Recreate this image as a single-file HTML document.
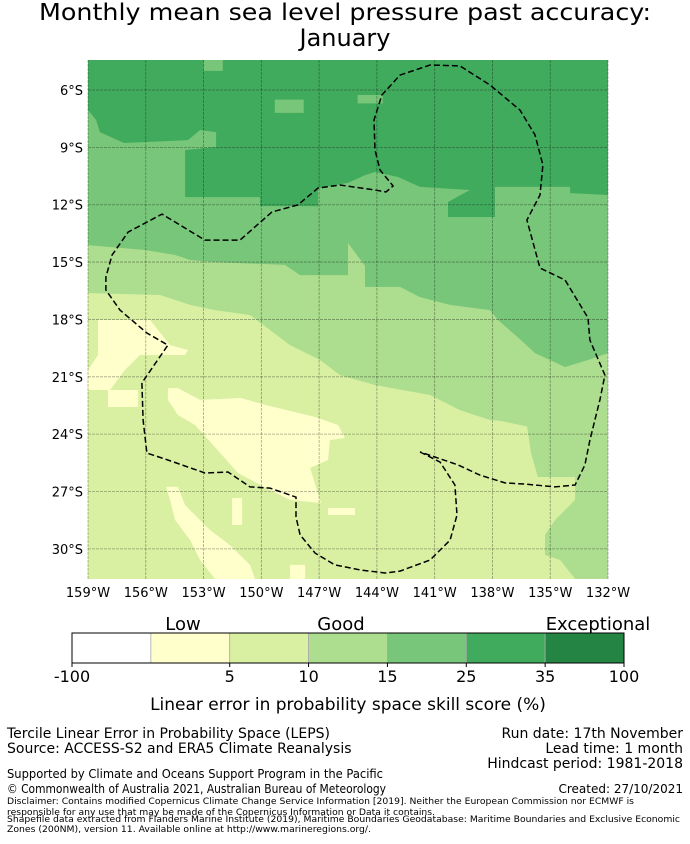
<!DOCTYPE html>
<html><head><meta charset="utf-8"><style>
body{margin:0;background:#fff;}
svg text{font-family:"DejaVu Sans","Liberation Sans",sans-serif;fill:#000;}
</style></head><body>
<svg id="fig" width="690" height="839" viewBox="0 0 690 839" xmlns="http://www.w3.org/2000/svg">
<text x="345" y="20" font-size="23" text-anchor="middle" textLength="612" lengthAdjust="spacingAndGlyphs">Monthly mean sea level pressure past accuracy:</text>
<text x="345" y="46" font-size="24" text-anchor="middle">January</text>
<defs><clipPath id="mapclip"><rect x="88" y="60" width="520" height="519"/></clipPath></defs>
<g id="map" clip-path="url(#mapclip)"></g>
<g id="axes"></g>
<g id="cbar"></g>
<text x="183" y="630" font-size="18" text-anchor="middle">Low</text>
<text x="341" y="630" font-size="18" text-anchor="middle">Good</text>
<text x="598" y="630" font-size="18" text-anchor="middle">Exceptional</text>
<text x="348" y="710" font-size="17" text-anchor="middle">Linear error in probability space skill score (%)</text>
<text x="7" y="738" font-size="14">Tercile Linear Error in Probability Space (LEPS)</text>
<text x="7" y="753" font-size="14">Source: ACCESS-S2 and ERA5 Climate Reanalysis</text>
<text x="683" y="738" font-size="14" text-anchor="end">Run date: 17th November</text>
<text x="683" y="753" font-size="14" text-anchor="end">Lead time: 1 month</text>
<text x="683" y="768" font-size="14" text-anchor="end">Hindcast period: 1981-2018</text>
<text x="7" y="778" font-size="12" textLength="376" lengthAdjust="spacingAndGlyphs">Supported by Climate and Oceans Support Program in the Pacific</text>
<text x="7" y="793" font-size="12" textLength="379" lengthAdjust="spacingAndGlyphs">© Commonwealth of Australia 2021, Australian Bureau of Meteorology</text>
<text x="683" y="793" font-size="12" text-anchor="end">Created: 27/10/2021</text>
<text x="7" y="804" font-size="9" textLength="627" lengthAdjust="spacingAndGlyphs">Disclaimer: Contains modified Copernicus Climate Change Service Information [2019]. Neither the European Commission nor ECMWF is</text>
<text x="7" y="815" font-size="9" textLength="428" lengthAdjust="spacingAndGlyphs">responsible for any use that may be made of the Copernicus Information or Data it contains.</text>
<text x="7" y="822" font-size="9" textLength="673" lengthAdjust="spacingAndGlyphs">Shapefile data extracted from Flanders Marine Institute (2019), Maritime Boundaries Geodatabase: Maritime Boundaries and Exclusive Economic</text>
<text x="7" y="832" font-size="9" textLength="364" lengthAdjust="spacingAndGlyphs">Zones (200NM), version 11. Available online at http://www.marineregions.org/.</text>
</svg>
<script>
// lon (negative = W), lat (positive = S)
const lonTicks=[159,156,153,150,147,144,141,138,135,132];
const latTicks=[6,9,12,15,18,21,24,27,30];
const cbBounds=[-100,0,5,10,15,25,35,100];
const cbLabels=["-100","","5","10","15","25","35","100"];
const cbColors=["#ffffff","#ffffcc","#d9f0a3","#addd8e","#78c679","#41ab5d","#238443"];
const regionLight=[[-159,4.43],[-132,4.43],[-132,31.57],[-133.71,31.57],[-134.49,30.58],[-135.27,30.32],[-135.27,29.27],[-134.75,28.49],[-133.71,27.44],[-133.71,26.24],[-135.64,26.24],[-136.0,24.99],[-136.2,23.6],[-137.6,23.3],[-138.13,23.26],[-139.69,22.74],[-141.24,21.95],[-144.1,21.43],[-145.92,20.91],[-146.95,20.12],[-148.51,19.34],[-149.55,18.55],[-150.59,17.77],[-152.41,17.51],[-153.7,17.24],[-155.26,16.72],[-159,16.62]];
const regionMedium=[[-159,4.43],[-132,4.43],[-132,19.76],[-133.04,20.12],[-134.23,20.49],[-135.79,19.76],[-136.52,19.08],[-137.71,18.03],[-138.13,17.51],[-140.2,17.24],[-141.76,16.83],[-142.8,16.3],[-144.62,16.3],[-144.62,15.2],[-145.5,14.0],[-145.5,15.68],[-147.99,15.68],[-148.77,15.15],[-152.41,15.0],[-153.7,14.89],[-154.48,14.63],[-156.04,14.37],[-159,14.11]];
const regionDark=[[-159,4.43],[-132,4.43],[-132,11.49],[-133.97,11.39],[-133.97,11.07],[-137.87,11.07],[-137.87,12.64],[-140.31,12.64],[-140.31,11.86],[-139.17,11.23],[-141.76,11.07],[-142.9,10.55],[-144.1,10.29],[-144.62,10.45],[-145.5,10.86],[-147.06,11.13],[-147.06,12.07],[-150.07,12.07],[-150.07,11.6],[-153.96,11.6],[-153.96,9.14],[-152.35,8.98],[-152.35,8.2],[-153.18,8.09],[-153.81,8.62],[-157.13,8.77],[-158.38,8.2],[-158.58,7.57],[-159,7.05]];
const mediumPatches=[[[-153.0,4.43],[-152.0,4.43],[-152.0,5.0],[-153.0,5.0]],[[-149.3,6.5],[-147.8,6.5],[-147.8,7.2],[-149.3,7.2]],[[-145.0,6.26],[-143.7,6.26],[-143.7,6.7],[-145.0,6.7]]];
const creamBlobs=[
[[-158.48,18.03],[-155.78,18.03],[-154.74,19.34],[-153.81,19.6],[-153.96,19.86],[-156.3,19.86],[-157.08,20.64],[-157.86,21.69],[-159,21.69],[-159,20.64],[-158.48,19.86]],
[[-157.96,21.69],[-156.4,21.69],[-156.4,22.58],[-157.96,22.58]],
[[-154.85,21.59],[-154.33,21.59],[-153.18,22.21],[-151.06,22.11],[-149.81,22.47],[-147.21,23.1],[-146.02,23.52],[-145.66,24.2],[-146.44,24.31],[-146.54,25.35],[-147.47,25.77],[-146.9,27.6],[-148.51,27.44],[-149.55,26.92],[-151.21,26.03],[-152.41,24.67],[-153.44,23.52],[-154.33,23.0],[-154.85,22.21]],
[[-154.95,26.76],[-154.33,26.76],[-153.96,27.71],[-152.67,29.01],[-151.63,29.8],[-150.59,30.84],[-150.33,31.57],[-152.41,31.57],[-153.18,30.58],[-153.7,29.54],[-154.48,28.49],[-154.74,27.44]],
[[-151.52,27.34],[-151.0,27.34],[-151.0,28.75],[-151.52,28.75]],
[[-148.51,30.84],[-147.73,30.84],[-147.73,31.57],[-148.51,31.57]],
[[-146.54,27.86],[-145.14,27.86],[-145.14,28.23],[-146.54,28.23]]];
const eezPath=[[-141.76,24.93],[-140.72,25.46],[-139.95,26.66],[-139.84,28.23],[-140.2,29.54],[-141.24,30.58],[-142.8,31.16],[-143.58,31.26],[-144.88,31.1],[-146.18,30.84],[-147.21,30.22],[-147.99,29.27],[-148.2,28.33],[-148.2,27.29],[-149.55,26.82],[-150.59,26.76],[-151.73,25.98],[-152.93,26.03],[-154.85,25.35],[-155.94,24.99],[-156.14,23.26],[-156.2,21.32],[-154.85,19.34],[-155.94,18.71],[-157.34,17.51],[-158.07,16.46],[-158.07,15.78],[-157.75,14.63],[-156.92,13.43],[-155.16,12.49],[-152.93,13.85],[-151.11,13.85],[-149.45,12.38],[-148.1,12.01],[-147.06,11.13],[-145.92,10.97],[-144.1,11.23],[-143.53,11.33],[-143.16,11.02],[-143.84,10.18],[-144.1,9.14],[-144.15,7.57],[-143.74,6.26],[-142.8,5.22],[-141.24,4.69],[-139.69,4.74],[-138.13,5.74],[-136.57,7.05],[-135.79,8.35],[-135.38,9.92],[-135.53,11.49],[-136.21,12.8],[-135.53,15.31],[-134.23,15.94],[-133.04,17.92],[-132.94,19.08],[-132.16,20.91],[-132.42,22.21],[-132.94,24.31],[-133.2,25.61],[-133.71,26.66],[-134.75,26.76],[-136.31,26.61],[-137.35,26.55],[-138.65,26.14],[-139.79,25.61],[-141.76,24.93]];

const NS="http://www.w3.org/2000/svg";
function X(lon){return 88+(lon+159)*19.26;}
function Y(lat){return 90+(lat-6)*19.12;}
function pts(a){return a.map(p=>X(p[0]).toFixed(1)+","+Y(p[1]).toFixed(1)).join(" ");}
const map=document.getElementById("map");
function poly(a,fill,name){
  const e=document.createElementNS(NS,"polygon");
  e.setAttribute("points",pts(a));e.setAttribute("fill",fill);
  
  
  map.appendChild(e);
}
const bg=document.createElementNS(NS,"rect");
bg.setAttribute("x",88);bg.setAttribute("y",60);bg.setAttribute("width",520);bg.setAttribute("height",519);bg.setAttribute("fill","#d9f0a3");


map.appendChild(bg);
poly(regionLight,"#addd8e","skill-10-15-region");
poly(regionMedium,"#78c679","skill-15-25-region");
poly(regionDark,"#41ab5d","skill-25-35-region");
mediumPatches.forEach(p=>poly(p,"#78c679","skill-15-25-patch"));
creamBlobs.forEach(p=>poly(p,"#ffffcc","skill-0-5-region"));
const ax=document.getElementById("axes");
lonTicks.forEach(l=>{
  const x=X(-l);
  const g=document.createElementNS(NS,"line");
  g.setAttribute("x1",x);g.setAttribute("x2",x);g.setAttribute("y1",60);g.setAttribute("y2",579);
  g.setAttribute("stroke","rgba(0,0,0,0.35)");g.setAttribute("stroke-width","0.8");g.setAttribute("stroke-dasharray","3,1");
  
  
  ax.appendChild(g);
  const t=document.createElementNS(NS,"text");
  t.setAttribute("x",x);t.setAttribute("y",597);t.setAttribute("font-size","13");t.setAttribute("text-anchor","middle");
  t.textContent=l+"°W";
  
  
  ax.appendChild(t);
});
latTicks.forEach(l=>{
  const y=Y(l);
  const g=document.createElementNS(NS,"line");
  g.setAttribute("x1",88);g.setAttribute("x2",608);g.setAttribute("y1",y);g.setAttribute("y2",y);
  g.setAttribute("stroke","rgba(0,0,0,0.35)");g.setAttribute("stroke-width","0.8");g.setAttribute("stroke-dasharray","3,1");
  
  
  ax.appendChild(g);
  const t=document.createElementNS(NS,"text");
  t.setAttribute("x",83);t.setAttribute("y",y+5);t.setAttribute("font-size","13");t.setAttribute("text-anchor","end");
  t.textContent=l+"°S";
  
  
  ax.appendChild(t);
});
const eez=document.createElementNS(NS,"polyline");
eez.setAttribute("points",pts(eezPath));eez.setAttribute("fill","none");eez.setAttribute("stroke","#000");
eez.setAttribute("stroke-width","1.5");eez.setAttribute("stroke-dasharray","6,3");


ax.appendChild(eez);
const cb=document.getElementById("cbar");
const cbX0=72,cbW=552,seg=cbW/cbColors.length;
cbColors.forEach((c,i)=>{
  const r=document.createElementNS(NS,"rect");
  r.setAttribute("x",cbX0+i*seg);r.setAttribute("y",633);r.setAttribute("width",seg);r.setAttribute("height",30);
  r.setAttribute("fill",c);r.setAttribute("stroke","#aaa");r.setAttribute("stroke-width","0.8");
  
  
  cb.appendChild(r);
});
const fr=document.createElementNS(NS,"rect");
fr.setAttribute("x",cbX0);fr.setAttribute("y",633);fr.setAttribute("width",cbW);fr.setAttribute("height",30);
fr.setAttribute("fill","none");fr.setAttribute("stroke","#000");fr.setAttribute("stroke-width","1");


cb.appendChild(fr);
cbBounds.forEach((b,i)=>{
  if(!cbLabels[i])return;
  const x=cbX0+i*seg;
  const tk=document.createElementNS(NS,"line");
  tk.setAttribute("x1",x);tk.setAttribute("x2",x);tk.setAttribute("y1",663);tk.setAttribute("y2",667);tk.setAttribute("stroke","#000");
  
  
  cb.appendChild(tk);
  const t=document.createElementNS(NS,"text");
  t.setAttribute("x",x);t.setAttribute("y",682);t.setAttribute("font-size","16");t.setAttribute("text-anchor","middle");
  t.textContent=cbLabels[i];
  
  
  cb.appendChild(t);
});
</script>
</body></html>
